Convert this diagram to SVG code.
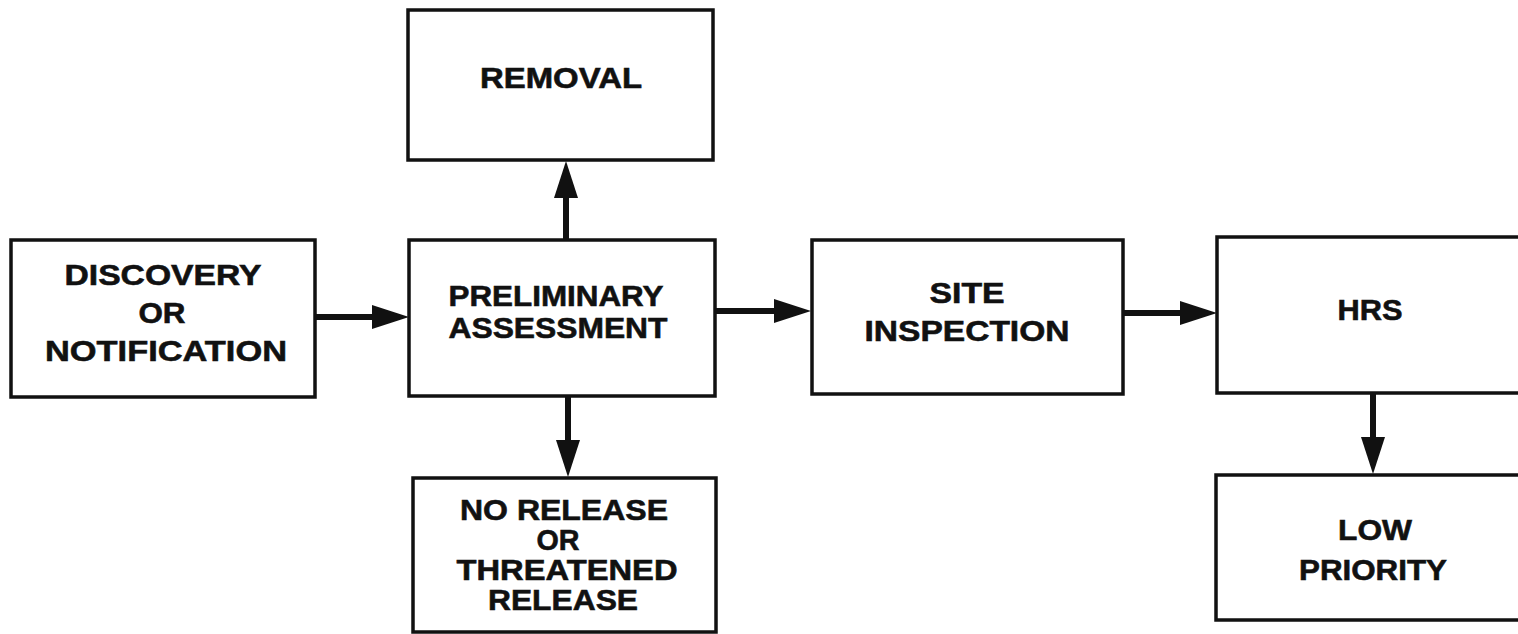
<svg xmlns="http://www.w3.org/2000/svg" width="1518" height="634" viewBox="0 0 1518 634">
<style>
.box{fill:#fff;stroke:#111;stroke-width:3.5}
.lbl{font-family:"Liberation Sans",Arial,sans-serif;font-weight:bold;font-size:30px;fill:#111;stroke:#111;stroke-width:0.6;text-anchor:middle}
.conn{stroke:#111;stroke-width:6;fill:none}
</style>
<defs>
<marker id="ah" markerUnits="userSpaceOnUse" markerWidth="40" markerHeight="26" refX="1" refY="12" orient="auto" viewBox="0 0 40 26">
<path d="M0,0 L37,12 L0,24 z" fill="#111"/>
</marker>
</defs>
<rect width="1518" height="634" fill="#fff"/>
<g id="discovery">
<rect class="box" x="11" y="240" width="304" height="157"/>
<text class="lbl" x="163" y="285" textLength="197" lengthAdjust="spacingAndGlyphs">DISCOVERY</text>
<text class="lbl" x="162" y="323" textLength="47" lengthAdjust="spacingAndGlyphs">OR</text>
<text class="lbl" x="166" y="361" textLength="242" lengthAdjust="spacingAndGlyphs">NOTIFICATION</text>
</g>
<g id="preliminary">
<rect class="box" x="409" y="240" width="306" height="156"/>
<text class="lbl" x="556" y="306" textLength="215" lengthAdjust="spacingAndGlyphs">PRELIMINARY</text>
<text class="lbl" x="558" y="338" textLength="219" lengthAdjust="spacingAndGlyphs">ASSESSMENT</text>
</g>
<g id="removal">
<rect class="box" x="408" y="10" width="305" height="150"/>
<text class="lbl" x="561" y="88" textLength="162" lengthAdjust="spacingAndGlyphs">REMOVAL</text>
</g>
<g id="norelease">
<rect class="box" x="413" y="478" width="303" height="154"/>
<text class="lbl" x="564" y="520" textLength="208" lengthAdjust="spacingAndGlyphs">NO RELEASE</text>
<text class="lbl" x="558" y="550" textLength="43" lengthAdjust="spacingAndGlyphs">OR</text>
<text class="lbl" x="567" y="580" textLength="221" lengthAdjust="spacingAndGlyphs">THREATENED</text>
<text class="lbl" x="563" y="610" textLength="150" lengthAdjust="spacingAndGlyphs">RELEASE</text>
</g>
<g id="site">
<rect class="box" x="812" y="240" width="311" height="154"/>
<text class="lbl" x="967" y="303" textLength="75" lengthAdjust="spacingAndGlyphs">SITE</text>
<text class="lbl" x="967" y="341" textLength="205" lengthAdjust="spacingAndGlyphs">INSPECTION</text>
</g>
<g id="hrs">
<rect class="box" x="1217" y="237" width="310" height="156"/>
<text class="lbl" x="1370" y="320" textLength="65" lengthAdjust="spacingAndGlyphs">HRS</text>
</g>
<g id="lowpriority">
<rect class="box" x="1216" y="475" width="310" height="145"/>
<text class="lbl" x="1375" y="540" textLength="74" lengthAdjust="spacingAndGlyphs">LOW</text>
<text class="lbl" x="1373" y="580" textLength="148" lengthAdjust="spacingAndGlyphs">PRIORITY</text>
</g>
<g id="connectors">
<line class="conn" x1="315" y1="317" x2="373" y2="317" marker-end="url(#ah)"/>
<line class="conn" x1="715" y1="311" x2="775" y2="311" marker-end="url(#ah)"/>
<line class="conn" x1="1123" y1="313" x2="1181" y2="313" marker-end="url(#ah)"/>
<line class="conn" x1="566" y1="240" x2="566" y2="197" marker-end="url(#ah)"/>
<line class="conn" x1="568" y1="396" x2="568" y2="441" marker-end="url(#ah)"/>
<line class="conn" x1="1373" y1="393" x2="1373" y2="438" marker-end="url(#ah)"/>
</g>
</svg>
